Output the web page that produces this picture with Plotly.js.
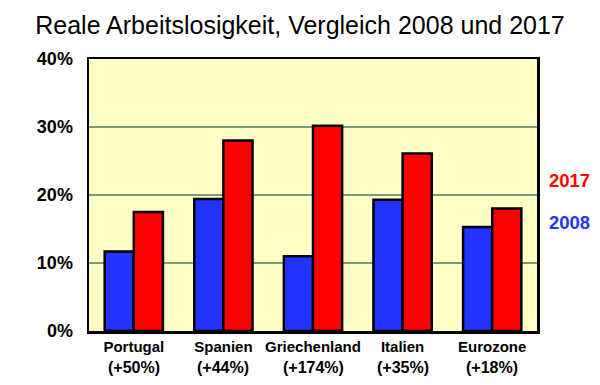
<!DOCTYPE html>
<html>
<head>
<meta charset="utf-8">
<script src="https://cdn.plot.ly/plotly-3.0.1.min.js"></script>
<style>html,body{margin:0;padding:0;background:#fff;}#chart{width:600px;height:385px;}</style>
</head>
<body>
<div id="chart"></div>
<script>
var countries = ["Portugal", "Spanien", "Griechenland", "Italien", "Eurozone"];
var changes = ["(+50%)", "(+44%)", "(+174%)", "(+35%)", "(+18%)"];
var values2008 = [11.7, 19.4, 11.0, 19.3, 15.3];
var values2017 = [17.5, 28.0, 30.2, 26.1, 18.0];
var yTicks = [0, 10, 20, 30, 40];

var FONT = "Liberation Sans, Arial, sans-serif";

var traces = [
  {type: "bar", name: "2008", x: countries, y: values2008,
   marker: {color: "#2233ff", line: {color: "#000", width: 2.5}}, hoverinfo: "none"},
  {type: "bar", name: "2017", x: countries, y: values2017,
   marker: {color: "#ff0000", line: {color: "#000", width: 2.5}}, hoverinfo: "none"}
];

var annotations = [
  {text: "2017", xref: "paper", yref: "y", x: 1.022, y: 22.2, xanchor: "left", yanchor: "middle",
   showarrow: false, font: {size: 18.5, color: "#ff0000", family: FONT, weight: "bold"}},
  {text: "2008", xref: "paper", yref: "y", x: 1.022, y: 15.9, xanchor: "left", yanchor: "middle",
   showarrow: false, font: {size: 18.5, color: "#2233ff", family: FONT, weight: "bold"}}
];
changes.forEach(function (c, i) {
  annotations.push({text: c, xref: "x", yref: "paper", x: countries[i], y: 0, yshift: -36,
    xanchor: "center", yanchor: "middle", showarrow: false,
    font: {size: 16, color: "#000", family: FONT, weight: "bold"}});
});

var layout = {
  width: 600, height: 385,
  margin: {l: 89, r: 63, t: 59, b: 54},
  paper_bgcolor: "#ffffff",
  plot_bgcolor: "#ffffc6",
  barmode: "group",
  bargap: 0.35,
  bargroupgap: 0,
  showlegend: false,
  font: {family: FONT, color: "#000"},
  title: {text: "Reale Arbeitslosigkeit, Vergleich 2008 und 2017",
          font: {size: 25, color: "#000", family: FONT},
          x: 0.5, xanchor: "center", y: 0.935, yanchor: "middle"},
  xaxis: {
    tickmode: "array", tickvals: countries, ticktext: countries,
    tickfont: {size: 15, color: "#000", family: FONT, weight: "bold"},
    showline: true, linecolor: "#000", linewidth: 2.5, mirror: true,
    ticks: "", showgrid: false, fixedrange: true
  },
  yaxis: {
    range: [0, 40], tickmode: "array", tickvals: yTicks,
    ticktext: yTicks.map(function (v) { return v + "%"; }),
    tickfont: {size: 18, color: "#000", family: FONT, weight: "bold"},
    showline: true, linecolor: "#000", linewidth: 2.5, mirror: true,
    showgrid: true, gridcolor: "#7f9a78", gridwidth: 1.2,
    zeroline: false, ticks: "", ticklabelstandoff: 10, fixedrange: true
  },
  shapes: [
    {type: "line", xref: "paper", yref: "y", x0: 0, x1: 1, y0: 20, y1: 20,
     line: {color: "#f0a080", width: 1.2}, layer: "below"}
  ],
  annotations: annotations
};

Plotly.newPlot("chart", traces, layout, {displayModeBar: false, staticPlot: true});
</script>
</body>
</html>
